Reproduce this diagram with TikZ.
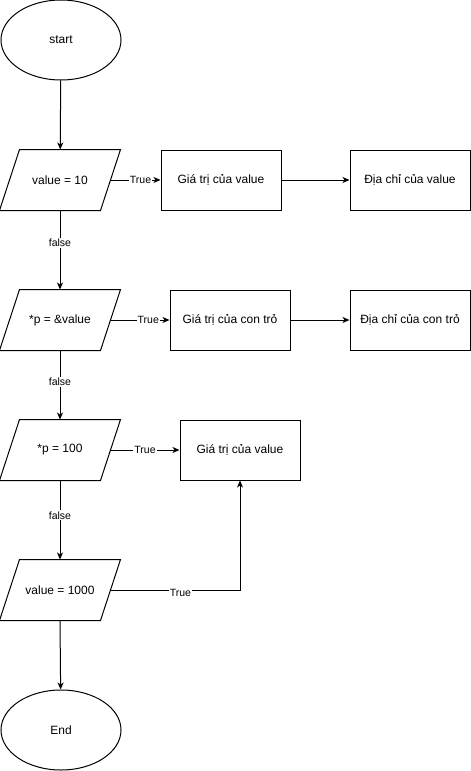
\documentclass[tikz,border=0pt]{standalone}
\usepackage{fontspec}
\setmainfont{Liberation Sans}
\usetikzlibrary{arrows.meta,shapes.geometric}
\begin{document}
\begin{tikzpicture}[x=1pt,y=1pt,line width=1pt,
  every node/.style={font=\fontsize{12}{14}\selectfont},
  term/.style={draw,ellipse,minimum width=120,minimum height=80,inner sep=0},
  io/.style={minimum width=100,minimum height=60,inner sep=0},
  proc/.style={draw,rectangle,minimum width=120,minimum height=60,inner sep=0},
  flow/.style={-{Stealth[length=7pt,width=6pt,inset=2pt]}},
  lbl/.style={fill=white,inner sep=1pt,font=\fontsize{10.5}{12}\selectfont}]
\newcommand\ioshape[1]{\draw ([xshift=10]#1.north west) -- ([xshift=10]#1.north east)
  -- ([xshift=-10]#1.south east) -- ([xshift=-10]#1.south west) -- cycle;}
\useasboundingbox (0,0) rectangle (471,-771);

% terminals
\node[term] (start) at (61,-40) {start};
\node[term] (end) at (61,-730) {End};

% decisions drawn as data blocks
\node[io] (d1) at (60,-180) {value = 10};
\node[io] (d2) at (60,-320) {*p = \&value};
\node[io] (d3) at (60,-450) {*p = 100};
\node[io] (d4) at (60,-590) {value = 1000};
\ioshape{d1}\ioshape{d2}\ioshape{d3}\ioshape{d4}

% outputs
\node[proc] (v1) at (221,-180) {Giá trị của value};
\node[proc] (a1) at (410,-180) {Địa chỉ của value};
\node[proc] (v2) at (230,-320) {Giá trị của con trỏ};
\node[proc] (a2) at (410,-320) {Địa chỉ của con trỏ};
\node[proc] (v3) at (240,-450) {Giá trị của value};

% main column
\draw[flow] (start) -- (d1);
\draw[flow] (d1.south) -- node[lbl,pos=0.41] {false} (d2.north);
\draw[flow] (d2.south) -- node[lbl,pos=0.46] {false} (d3.north);
\draw[flow] (d3.south) -- node[lbl,pos=0.44] {false} (d4.north);
\draw[flow] (d4.south) -- (end);

% true branches
\draw[flow] (d1.east) -- node[lbl,pos=0.6] {True} (v1.west);
\draw[flow] (v1) -- (a1);
\draw[flow] (d2.east) -- node[lbl,pos=0.64] {True} (v2.west);
\draw[flow] (v2) -- (a2);
\draw[flow] (d3.east) -- node[lbl,pos=0.5] {True} (v3.west);
\draw[flow] (d4.east) -- node[lbl,pos=0.54,yshift=-3] {True} (d4.east -| v3.south) -- (v3.south);
\end{tikzpicture}
\end{document}
